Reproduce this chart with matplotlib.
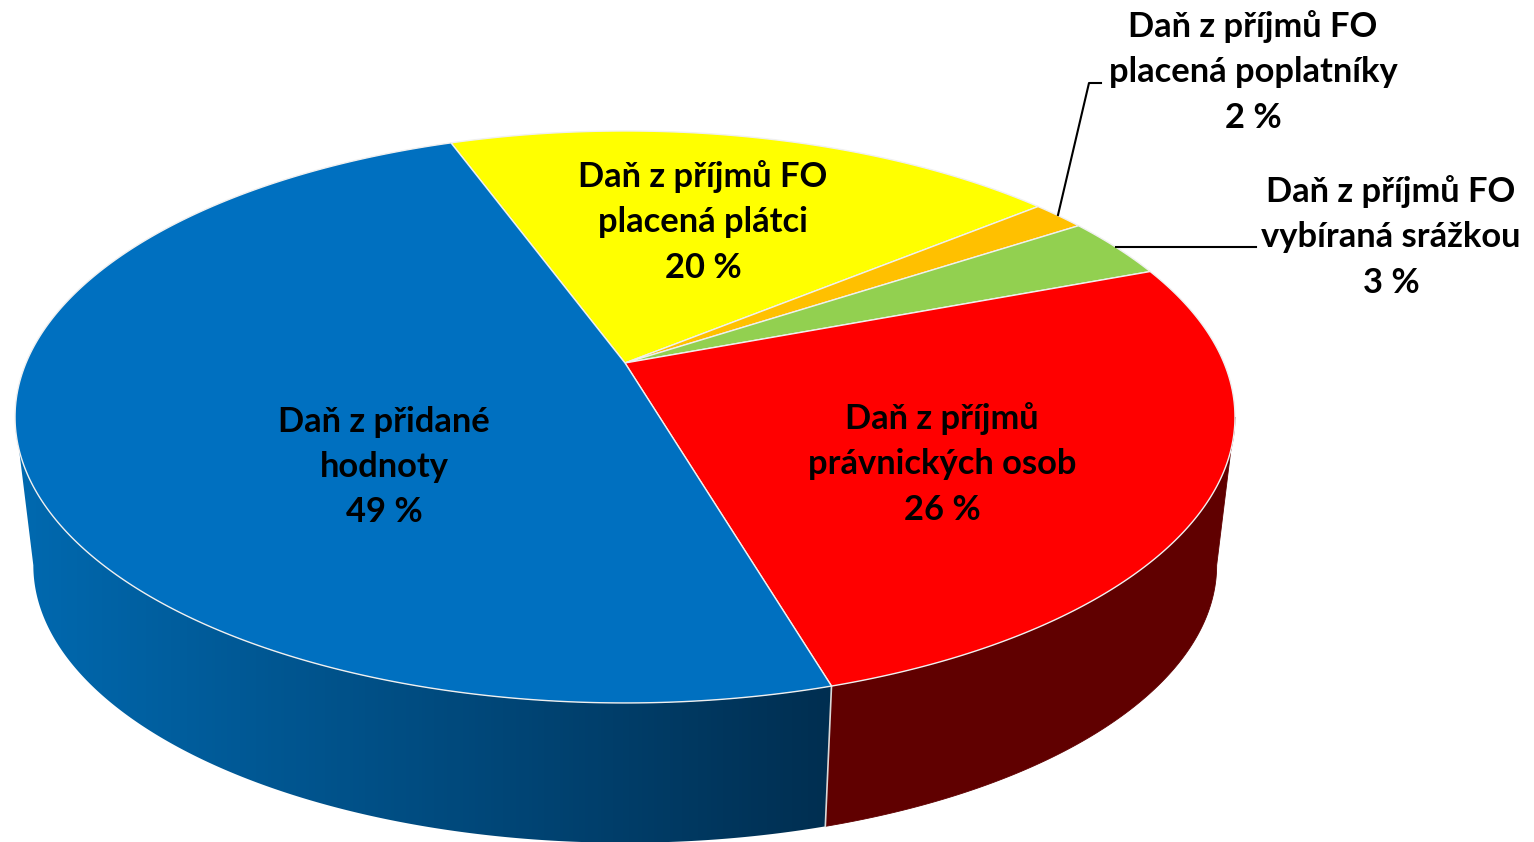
import matplotlib
matplotlib.use("Agg")
import matplotlib.pyplot as plt
import numpy as np
from matplotlib.colors import LinearSegmentedColormap
from matplotlib.patches import Polygon

plt.rcParams['font.family'] = ['Lato', 'DejaVu Sans']

# shares as they sit on the pie (clockwise), the labels show them rounded
names = ["Daň z příjmů FO\nplacená plátci\n20 %", "Daň z příjmů FO\nplacená poplatníky\n2 %",
         "Daň z příjmů FO\nvybíraná srážkou\n3 %", "Daň z příjmů\nprávnických osob\n26 %",
         "Daň z přidané\nhodnoty\n49 %"]
shares = [19.6, 1.7, 3.5, 26.2, 49.0]
colors = ["#FFFF00", "#FFC000", "#92D050", "#FF0000", "#0070C0"]
label_x = [703, 1253, 1391, 942, 384]
label_y = [222, 72, 237, 464, 467]

# perspective of the disc, in pixels of the picture
cx, cy = 625., 363.
A, B, k = 599., 275.8, 0.1887
scale, low_y = 0.97, 513.
start = 110.


def top(t):
    u, v = np.cos(np.radians(t)), np.sin(np.radians(t))
    return cx + A * u / (1 + k * v), cy - B * v / (1 + k * v)


def low(t):
    x, y = top(t)
    return cx + scale * (x - cx), low_y + scale * (y - cy)


fig = plt.figure(figsize=(15.34, 8.42), dpi=100)
ax = fig.add_axes([0, 0, 1, 1])
ax.axis("off")

edges = start - np.cumsum([0] + shares) * 3.6
seam = edges[4]
# angle where the rim is widest, the wall ends there on both sides
side = np.degrees(np.arcsin(k))

# side wall, blue with a gradient, red flat
blue_t = np.linspace(-180 + side, seam, 400)
x1, y1 = top(blue_t)
x2, y2 = low(blue_t)
wall = Polygon(np.c_[np.r_[x1, x2[::-1]], np.r_[y1, y2[::-1]]], transform=ax.transData,
               facecolor="none", edgecolor="none")
ax.add_patch(wall)
cmap = LinearSegmentedColormap.from_list("wall", ["#0068AE", "#002E50"])
img = ax.imshow(np.linspace(0, 1, 256).reshape(1, -1), cmap=cmap, aspect="auto",
                extent=[33, 836, 842, 0], zorder=1)
img.set_clip_path(wall)
# left of the gradient's span the wall keeps its end colour
ax.axvspan(0, 33, color="#0068AE", lw=0, zorder=0.9).set_clip_path(wall)

red_t = np.linspace(seam, -side, 300)
x1, y1 = top(red_t)
x2, y2 = low(red_t)
ax.fill(np.r_[x1, x2[::-1]], np.r_[y1, y2[::-1]], color="#600000", lw=0.6, zorder=1.1)

# seam between the two walls
xs, ys = top(seam)
xe, ye = low(seam)
ax.plot([xs, xe], [ys, ye], color="#D9D9D9", lw=1.2, zorder=1.2)

# top of the pie
for i, c in enumerate(colors):
    t = np.linspace(edges[i], edges[i + 1], 300)
    x, y = top(t)
    ax.fill(np.r_[cx, x], np.r_[cy, y], facecolor=c, edgecolor="#F0F0F0", lw=1.0,
            joinstyle="round", zorder=2)

# leader lines of the two small slices
ax.plot([1058, 1089, 1101], [215, 83, 83], color="black", lw=1.5, zorder=3)
ax.plot([1116, 1256], [247, 247], color="black", lw=1.5, zorder=3)

for name, x, y in zip(names, label_x, label_y):
    ax.text(x, y, name, ha="center", va="center", fontsize=24.8, fontweight="bold",
            color="black", linespacing=1.51, zorder=4)

ax.set_xlim(0, 1534)
ax.set_ylim(842, 0)

fig.savefig("out.png", dpi=100)
